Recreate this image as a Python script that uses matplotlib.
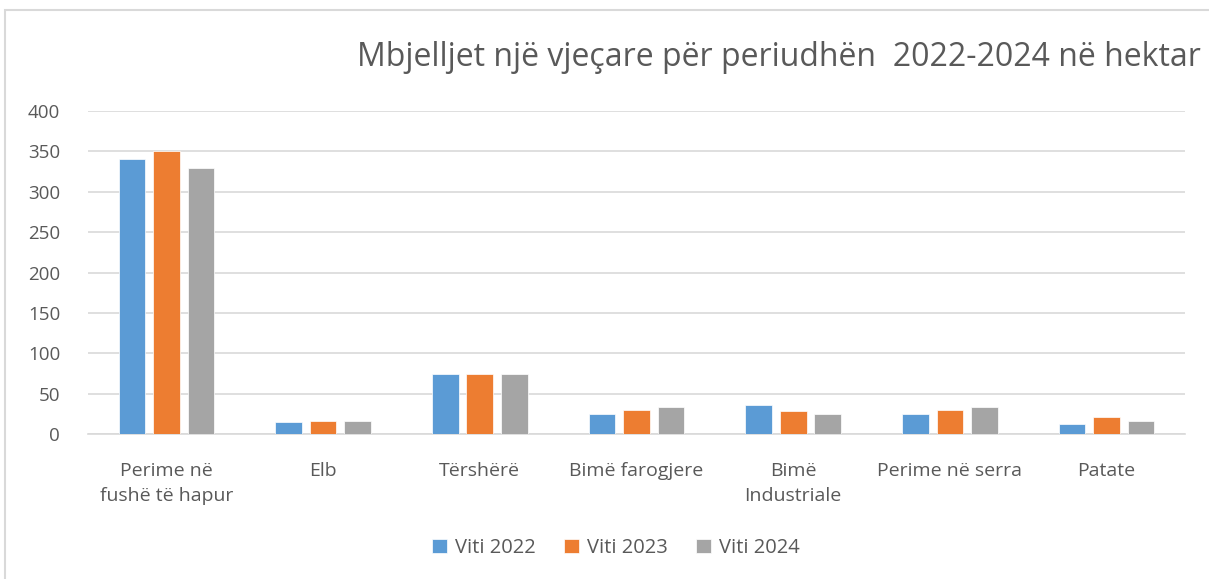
import numpy as np
import matplotlib.pyplot as plt
from matplotlib.patches import Rectangle

categories = ['Perime në\nfushë të hapur', 'Elb', 'Tërshërë', 'Bimë farogjere',
              'Bimë\nIndustriale', 'Perime në serra', 'Patate']
viti_2022 = [340, 15, 74, 25, 36, 25, 13]
viti_2023 = [350, 16, 74, 30, 29, 30, 21]
viti_2024 = [330, 16, 74, 34, 25, 34, 16]
series_names = ['Viti 2022', 'Viti 2023', 'Viti 2024']
colors = ['#5b9bd5', '#ed7d31', '#a5a5a5']

plt.rcParams['font.family'] = ['Open Sans', 'DejaVu Sans']

fig = plt.figure(figsize=(12.09, 5.79), dpi=100)
fig.patches.append(Rectangle((5/1209, -0.01), 1.0, 1 - 10/579 + 0.01,
                             transform=fig.transFigure, fill=False,
                             edgecolor='#d9d9d9', lw=1.5))
ax = fig.add_axes([88/1209, 145/579, 1097/1209, 323/579])

x = np.arange(len(categories))
w = 0.17
off = 0.22
for i, (vals, name) in enumerate(zip([viti_2022, viti_2023, viti_2024], series_names)):
    ax.bar(x + (i - 1)*off, vals, w, color=colors[i], label=name,
           edgecolor='white', linewidth=0.5, zorder=3)

ax.set_xlim(-0.5, len(categories) - 0.5)
ax.set_ylim(0, 400)
ax.set_yticks(range(0, 401, 50))
ax.grid(axis='y', color='#d9d9d9', lw=1.2, zorder=0)
ax.set_xticks(x)
ax.set_xticklabels(categories, fontsize=14, color='#595959', linespacing=1.55)
ax.tick_params(axis='y', labelsize=13.5, labelcolor='#595959', length=0, pad=20)
ax.tick_params(axis='x', length=0, pad=20)
for s in ['top', 'right', 'left']:
    ax.spines[s].set_visible(False)
ax.spines['bottom'].set_color('#d9d9d9')
ax.spines['bottom'].set_linewidth(1.2)

fig.text(1201/1209, 1 - 58/579, 'Mbjelljet një vjeçare për periudhën  2022-2024 në hektar',
         ha='right', va='center', fontsize=23, color='#595959')

fig.legend(loc='center', bbox_to_anchor=(616/1209, 1 - 548/579), ncol=3,
           frameon=False, fontsize=14.5, handlelength=0.75, handleheight=0.75,
           columnspacing=1.4, handletextpad=0.4, labelcolor='#595959')

fig.savefig('out.png', dpi=100)
